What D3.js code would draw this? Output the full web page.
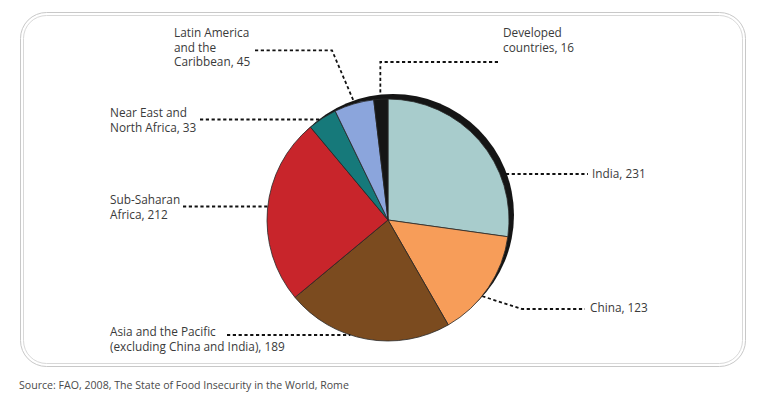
<!DOCTYPE html>
<html><head><meta charset="utf-8">
<script src="https://cdn.jsdelivr.net/npm/d3@7"></script>
<style>
html,body{margin:0;padding:0;background:#fff;}
svg{display:block;}
text{font-family:"Open Sans","DejaVu Sans",sans-serif;fill:#3a3a3a;}
</style></head>
<body>
<svg id="chart" width="778" height="403"></svg>
<script>
// Data (millions of undernourished people)
const regions = ["India", "China", "Asia and the Pacific (excluding China and India)", "Sub-Saharan Africa", "Near East and North Africa", "Latin America and the Caribbean", "Developed countries"];
const values  = [231, 123, 189, 212, 33, 45, 16];
const colors  = ["#a8cccc", "#f79d59", "#7b4b1f", "#c8252b", "#16797a", "#8ba5dc", "#151515"];
const labelLines = [
  ["India, 231"],
  ["China, 123"],
  ["Asia and the Pacific", "(excluding China and India), 189"],
  ["Sub-Saharan", "Africa, 212"],
  ["Near East and", "North Africa, 33"],
  ["Latin America", "and the", "Caribbean, 45"],
  ["Developed", "countries, 16"]
];
const sourceText = "Source: FAO, 2008, The State of Food Insecurity in the World, Rome";

const svg = d3.select("#chart");

// frame (double rounded border)
svg.append("rect").attr("x", 20.5).attr("y", 12.5).attr("width", 725).attr("height", 354)
  .attr("rx", 26).attr("fill", "none").attr("stroke", "#c8c8c8").attr("stroke-width", 1);
svg.append("rect").attr("x", 23.5).attr("y", 15.5).attr("width", 719).attr("height", 348)
  .attr("rx", 23).attr("fill", "none").attr("stroke", "#d8d8d8").attr("stroke-width", 1);

const cx = 388, cy = 220, R = 121;
const g = svg.append("g").attr("transform", `translate(${cx},${cy})`);

const data = regions.map((r, i) => ({ name: r, value: values[i], color: colors[i], lines: labelLines[i] }));
const pie = d3.pie().value(d => d.value).sort(null);
const arcs = pie(data);
const arc = d3.arc().innerRadius(0).outerRadius(R);

// dark offset shadow
g.append("circle").attr("cx", 5).attr("cy", -5).attr("r", R).attr("fill", "#151515");

g.selectAll("path.slice").data(arcs).join("path").attr("class", "slice")
  .attr("d", arc).attr("fill", d => d.data.color)
  .attr("stroke", "#2a2a2a").attr("stroke-width", 0.8);

// Leader/label layout
const pt = a => [R * Math.sin(a), -R * Math.cos(a)];
const edgeXAtY = (y, side) => side * Math.sqrt(Math.max(0, R * R - y * y));
const mid = d => (d.startAngle + d.endAngle) / 2;

const layout = [
  { x: 592, y: 174, anchor: "start", kind: "h", side: 1, ly: 174 },               // India
  { x: 590, y: 308, anchor: "start", kind: "elbow", frac: 0.62 },                  // China
  { x: 110, y: 332, anchor: "start", kind: "h", side: -1, lineEnd: 227, ly: 335 }, // Asia
  { x: 110, y: 200, anchor: "start", kind: "h", side: -1, lineEnd: 183, ly: 206.5 }, // Sub-Saharan
  { x: 110, y: 113, anchor: "start", kind: "h", side: -1, lineEnd: 200, ly: 119.5 }, // Near East
  { x: 174, y: 33, anchor: "start", kind: "elbowTop", lineStart: 255, bendX: 332 }, // Latin America
  { x: 503, y: 33, anchor: "start", kind: "vert", lineEnd: 498 }                   // Developed
];

const lh = 14.5;
const dash = "3.2,2.6";
const leaders = svg.append("g").attr("stroke", "#111").attr("stroke-width", 1.8)
  .attr("stroke-dasharray", dash).attr("fill", "none");

arcs.forEach((d, i) => {
  const L = layout[i];
  const t = svg.append("text").attr("font-size", 11.8).attr("text-anchor", L.anchor);
  d.data.lines.forEach((s, k) => {
    t.append("tspan").attr("x", L.x).attr("y", L.y + 4 + k * lh).text(s);
  });
  let pts;
  if (L.kind === "h") {
    const ly = L.ly;
    const yy = ly - cy;
    const ex = cx + edgeXAtY(yy, L.side) + (L.side > 0 ? 6 : 0);
    pts = L.side > 0 ? [[ex, ly], [L.x - 4, ly]] : [[L.lineEnd, ly], [ex, ly]];
  } else if (L.kind === "elbow") {
    const a = d.startAngle + (d.endAngle - d.startAngle) * L.frac;
    const p = pt(a);
    pts = [[cx + p[0] + 2, cy + p[1] - 2], [522, L.y + 1], [L.x - 5, L.y + 1]];
  } else if (L.kind === "elbowTop") {
    const ly = L.y + lh * 1.2;
    const p = pt(mid(d));
    pts = [[L.lineStart, ly], [L.bendX, ly], [cx + p[0], cy + p[1] - 2]];
  } else {
    const p = pt(mid(d));
    const ly = L.y + lh * 2;
    pts = [[L.lineEnd, ly], [cx + p[0] - 0.5, ly], [cx + p[0] - 0.5, cy + p[1] - 6]];
  }
  leaders.append("path").attr("d", d3.line()(pts));
});

svg.append("text").attr("x", 19).attr("y", 389).attr("font-size", 10.6)
  .style("fill", "#4a4a4a").text(sourceText);
</script>
</body></html>
